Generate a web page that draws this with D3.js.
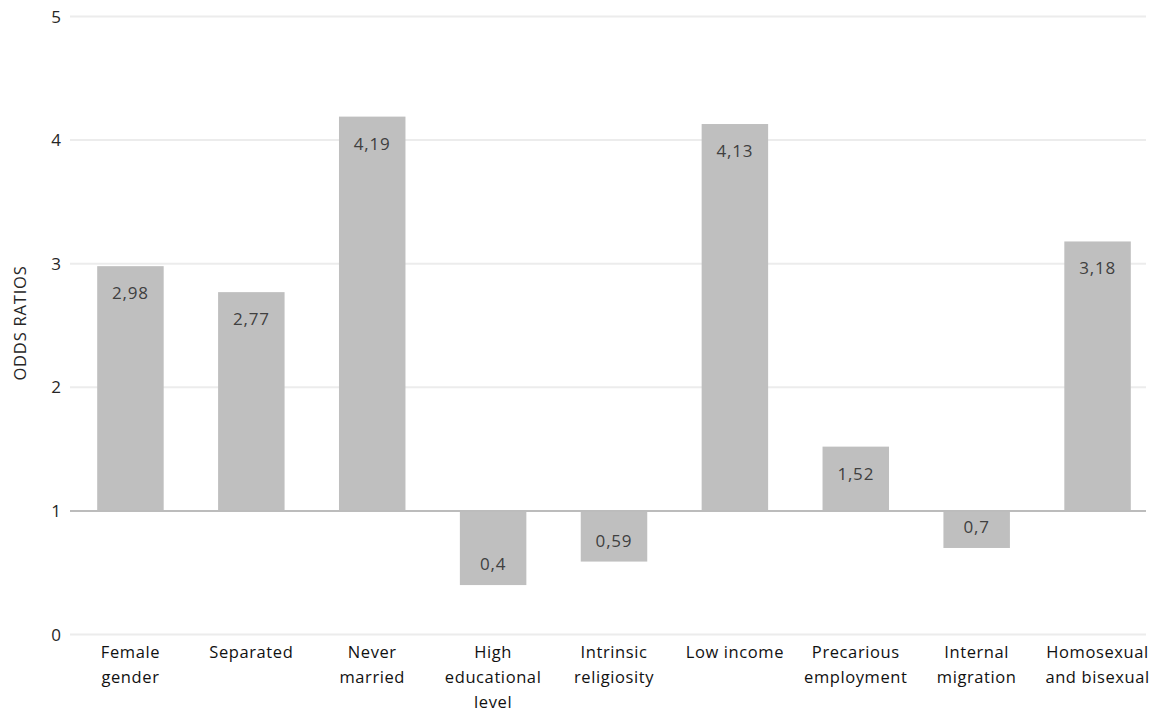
<!DOCTYPE html>
<html><head><meta charset="utf-8">
<script src="https://cdn.jsdelivr.net/npm/d3@7"></script>
<style>body{margin:0;background:#fff}svg{display:block}text{font-family:"Open Sans",sans-serif}</style>
</head><body><svg id="c" width="1156" height="712"></svg>
<script>
const categories = [["Female","gender"],["Separated"],["Never","married"],["High","educational","level"],["Intrinsic","religiosity"],["Low income"],["Precarious","employment"],["Internal","migration"],["Homosexual","and bisexual"]];
const values = [2.98, 2.77, 4.19, 0.4, 0.59, 4.13, 1.52, 0.7, 3.18];
const valueLabels = ["2,98","2,77","4,19","0,4","0,59","4,13","1,52","0,7","3,18"];
const yTicks = [0,1,2,3,4,5];
const yTitle = "ODDS RATIOS";

const svg = d3.select("#c");
const x = d3.scaleBand().domain(d3.range(values.length)).range([70,1158]).paddingInner(0.45).paddingOuter(0.225);
const y = d3.scaleLinear().domain([0,5]).range([634.5,16.5]);

// gridlines
svg.append("g").selectAll("line").data(yTicks.filter(t=>t!==1)).join("line")
  .attr("x1",70).attr("x2",1146).attr("y1",d=>y(d)).attr("y2",d=>y(d))
  .attr("stroke","#ececec").attr("stroke-width",2);

// y tick labels
svg.append("g").selectAll("text").data(yTicks).join("text")
  .attr("x",56).attr("y",d=>y(d)+6).attr("text-anchor","middle")
  .attr("font-size",17).attr("fill","#262626").text(d=>d);

// y title
svg.append("text").attr("transform","translate(26,323) rotate(-90)")
  .attr("text-anchor","middle").attr("font-size",16.5).attr("letter-spacing",0.8)
  .attr("fill","#262626").text(yTitle);

// bars
svg.append("g").selectAll("rect").data(values).join("rect")
  .attr("x",(d,i)=>x(i)).attr("width",x.bandwidth())
  .attr("y",d=>y(Math.max(d,1))).attr("height",d=>Math.abs(y(d)-y(1)))
  .attr("fill","#bfbfbf");

// baseline at 1
svg.append("line").attr("x1",70).attr("x2",1146).attr("y1",y(1)).attr("y2",y(1))
  .attr("stroke","#bcbcbc").attr("stroke-width",2);

// value labels
svg.append("g").selectAll("text").data(values).join("text")
  .attr("x",(d,i)=>x(i)+x.bandwidth()/2)
  .attr("y",d=>d>=1 ? y(d)+33 : y(d)-15)
  .attr("text-anchor","middle").attr("font-size",17).attr("fill","#404040")
  .attr("letter-spacing",0.8)
  .text((d,i)=>valueLabels[i]);

// category labels
const cg = svg.append("g").selectAll("text").data(categories).join("text")
  .attr("text-anchor","middle").attr("font-size",16.5).attr("fill","#111").attr("letter-spacing",0.6)
  .attr("transform",(d,i)=>`translate(${x(i)+x.bandwidth()/2},658)`);
cg.selectAll("tspan").data(d=>d).join("tspan")
  .attr("x",0).attr("y",(d,j)=>j*25).text(d=>d);
</script></body></html>
